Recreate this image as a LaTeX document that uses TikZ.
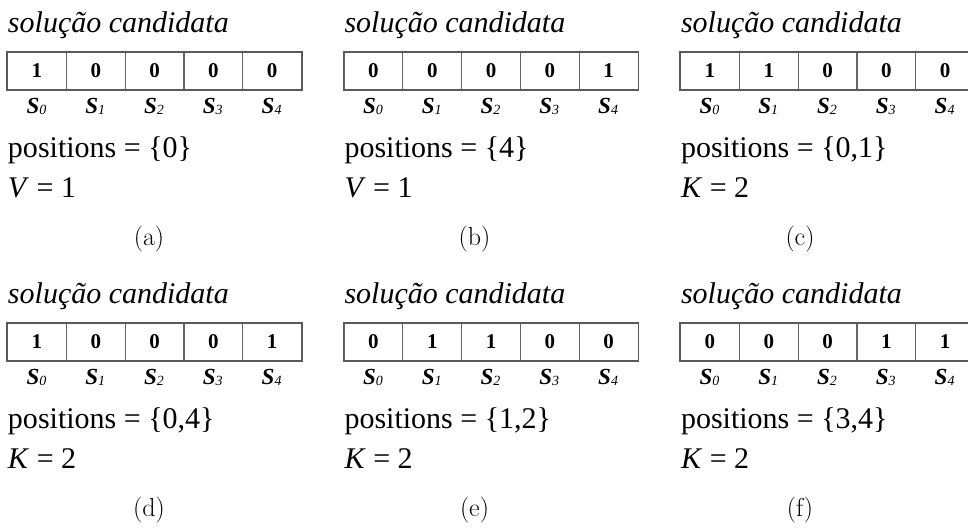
\documentclass[tikz,border=0pt]{standalone}
\usepackage{fontspec}
\newfontfamily\tnr{Liberation Serif}
\tikzset{
  txt/.style={inner sep=0pt, outer sep=0pt, anchor=base west, font=\tnr\fontsize{30}{36}\selectfont},
  titletxt/.style={txt, font=\tnr\itshape\fontsize{30}{36}\selectfont},
  cell/.style={draw=black!60, line width=1.1pt, fill=white, anchor=north west, minimum width=58.8pt, minimum height=37pt, inner sep=0pt, font=\tnr\bfseries\fontsize{21}{24}\selectfont},
  slabel/.style={inner sep=0pt, anchor=base, font=\tnr\bfseries\itshape\fontsize{23}{26}\selectfont},
  captxt/.style={inner sep=0pt, anchor=base, font=\fontsize{26}{30}\selectfont},
  outerbox/.style={draw=black!65, line width=1.6pt}
}
\newcommand\mysub[1]{{\mdseries\fontsize{14}{14}\selectfont\raisebox{-1pt}{#1}}}
\newcommand\mypanel[9]{%
  \begin{scope}[shift={(#2,#3)}]
    \node[titletxt] (#1-t) at (1,32) {solução candidata};
    \foreach \v [count=\i from 0] in {#4} {
      \node[cell] (#1-c\i) at ({\i*58.8},52) {\v};
      \node[slabel] (#1-s\i) at ({(\i+0.5)*58.8},113) {S\mysub{\i}};
    }
    \draw[outerbox] (#1-c0.north west) rectangle (#1-c4.south east);
    \node[txt] (#1-p) at (1,157) {positions = \{#5\}};
    \node[txt] (#1-v) at (1,197) {\textit{#6} = #7};
    \node[captxt] (#1-cap) at (#9,245) {(#8)};
  \end{scope}}
\begin{document}
\begin{tikzpicture}[x=1pt,y=-1pt]
  \useasboundingbox (0,0) rectangle (968,531);
  \clip (0,0) rectangle (968,531);
  \mypanel{a}{7}{0}{1,0,0,0,0}{0}{V}{1}{a}{142}
  \mypanel{b}{343.5}{0}{0,0,0,0,1}{4}{V}{1}{b}{131}
  \mypanel{c}{680}{0}{1,1,0,0,0}{0,1}{K}{2}{c}{120}
  \mypanel{d}{7}{271}{1,0,0,0,1}{0,4}{K}{2}{d}{142}
  \mypanel{e}{343.5}{271}{0,1,1,0,0}{1,2}{K}{2}{e}{131}
  \mypanel{f}{680}{271}{0,0,0,1,1}{3,4}{K}{2}{f}{120}
\end{tikzpicture}
\end{document}
